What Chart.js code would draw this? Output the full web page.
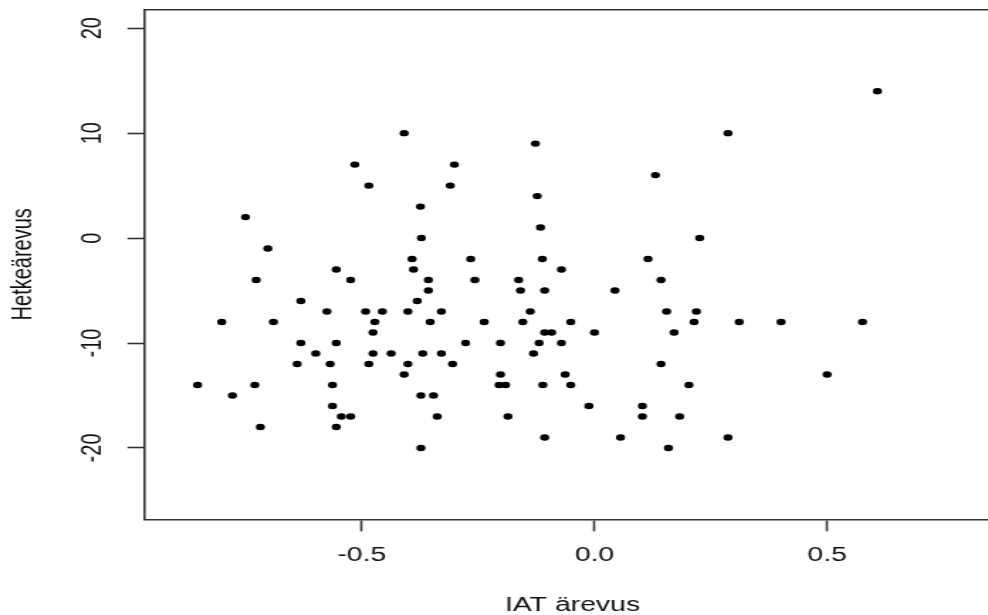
<!DOCTYPE html>
<html>
<head>
<meta charset="utf-8">
<script src="https://cdn.jsdelivr.net/npm/chart.js@4/dist/chart.umd.min.js"></script>
<style>
html,body{margin:0;padding:0;background:#fff;overflow:hidden;width:988px;height:615px;}
</style>
</head>
<body>
<canvas id="c" width="708" height="617" style="width:1005.36px;height:617px;display:block;"></canvas>
<script>
// ---- data (IAT ärevus vs Hetkeärevus) ----
const iatValues = [
  -0.409, -0.515, -0.485, -0.374, -0.750, -0.372, -0.702, -0.392, -0.555, -0.389,
  -0.727, -0.524, -0.357, -0.357, -0.631, -0.381, -0.575, -0.492, -0.456, -0.401,
  -0.801, -0.690, -0.472, -0.353, -0.476, -0.631, -0.555, -0.599, -0.476, -0.437,
  -0.369, -0.639, -0.568, -0.485, -0.401, -0.409, -0.853, -0.730, -0.563, -0.778,
  -0.373, -0.346, -0.563, -0.544, -0.524, -0.338, -0.718, -0.555, -0.373,
  -0.127, -0.301, 0.131, -0.310, -0.123, -0.116, 0.226, -0.266, -0.112, 0.115,
  -0.071, -0.257, -0.163, 0.143, -0.159, -0.107, 0.044, -0.329, -0.138, 0.155,
  0.219, -0.237, -0.154, -0.051, 0.214, -0.107, -0.092, 0.000, 0.171, -0.277,
  -0.202, -0.119, -0.071, -0.329, -0.131, -0.305, 0.143, -0.202, -0.063, -0.205,
  -0.191, -0.111, -0.051, 0.203, -0.012, 0.103, -0.186, 0.103, 0.183, -0.107,
  0.056, 0.159,
  0.608, 0.287, 0.311, 0.401, 0.576, 0.500, 0.287
];
const hetkeValues = [
  10, 7, 5, 3, 2, 0, -1, -2, -3, -3,
  -4, -4, -4, -5, -6, -6, -7, -7, -7, -7,
  -8, -8, -8, -8, -9, -10, -10, -11, -11, -11,
  -11, -12, -12, -12, -12, -13, -14, -14, -14, -15,
  -15, -15, -16, -17, -17, -17, -18, -18, -20,
  9, 7, 6, 5, 4, 1, 0, -2, -2, -2,
  -3, -4, -4, -4, -5, -5, -5, -7, -7, -7,
  -7, -8, -8, -8, -8, -9, -9, -9, -9, -10,
  -10, -10, -10, -11, -11, -12, -12, -13, -13, -14,
  -14, -14, -14, -14, -16, -16, -17, -17, -17, -19,
  -19, -20,
  14, 10, -8, -8, -8, -13, -19
];
const xTickValues = [-0.5, 0, 0.5];
const xTickLabels = ['-0.5', '0.0', '0.5'];
const yTickValues = [-20, -10, 0, 10, 20];
const yTickLabels = ['-20', '-10', '0', '10', '20'];
const xLimits = [-0.967, 0.8725];
const yLimits = [-26.8, 21.8];
const xTitle = 'IAT ärevus';
const yTitle = 'Hetkeärevus';

// ---- chart ----
const points = iatValues.map((x, i) => ({x: x, y: hetkeValues[i]}));
const FONT = 'Liberation Sans, Arial, sans-serif';
const INK = '#111';
const LINE = '#333';
const noPad = s => { s.paddingTop = 0; s.paddingBottom = 0; s.paddingLeft = 0; s.paddingRight = 0; };

new Chart(document.getElementById('c'), {
  type: 'scatter',
  data: {
    datasets: [{
      data: points,
      pointRadius: 3.2,
      pointHoverRadius: 3.2,
      pointBackgroundColor: '#000',
      pointBorderWidth: 0,
      pointBorderColor: '#000'
    }]
  },
  options: {
    responsive: false,
    devicePixelRatio: 1,
    animation: false,
    events: [],
    layout: {padding: 0},
    plugins: {legend: {display: false}, tooltip: {enabled: false}},
    scales: {
      x: {
        type: 'linear',
        position: 'bottom',
        min: xLimits[0],
        max: xLimits[1],
        afterBuildTicks: s => { s.ticks = xTickValues.map(v => ({value: v})); },
        afterFit: s => { s.height = 617 - 519.3; noPad(s); },
        grid: {display: true, drawOnChartArea: false, drawTicks: true, tickLength: 12, tickWidth: 1.6, tickColor: LINE, color: 'rgba(0,0,0,0)'},
        border: {display: true, color: LINE, width: 1.6},
        ticks: {
          includeBounds: false,
          padding: 12,
          color: INK,
          font: {family: FONT, size: 20},
          maxRotation: 0, minRotation: 0,
          callback: v => xTickLabels[xTickValues.indexOf(v)]
        },
        title: {display: true, text: xTitle, color: INK, font: {family: FONT, size: 20}, padding: {top: 0, bottom: 0}}
      },
      xTop: {
        type: 'linear',
        position: 'top',
        min: xLimits[0],
        max: xLimits[1],
        afterFit: s => { s.height = 9.3; noPad(s); },
        grid: {display: true, drawOnChartArea: false, drawTicks: false, color: 'rgba(0,0,0,0)'},
        border: {display: true, color: LINE, width: 1.6},
        ticks: {display: false}
      },
      y: {
        type: 'linear',
        position: 'left',
        min: yLimits[0],
        max: yLimits[1],
        afterBuildTicks: s => { s.ticks = yTickValues.map(v => ({value: v})); },
        afterFit: s => { s.width = 101.8; noPad(s); },
        grid: {display: true, drawOnChartArea: false, drawTicks: true, tickLength: 12, tickWidth: 1.6, tickColor: LINE, color: 'rgba(0,0,0,0)'},
        border: {display: true, color: LINE, width: 1.6},
        ticks: {
          includeBounds: false,
          padding: 10,
          crossAlign: 'center',
          minRotation: 90,
          maxRotation: 90,
          color: INK,
          font: {family: FONT, size: 20},
          callback: v => yTickLabels[yTickValues.indexOf(v)]
        },
        title: {display: true, text: yTitle, color: INK, font: {family: FONT, size: 20}, padding: {top: 4, bottom: 0}}
      }
    }
  }
});
</script>
</body>
</html>
